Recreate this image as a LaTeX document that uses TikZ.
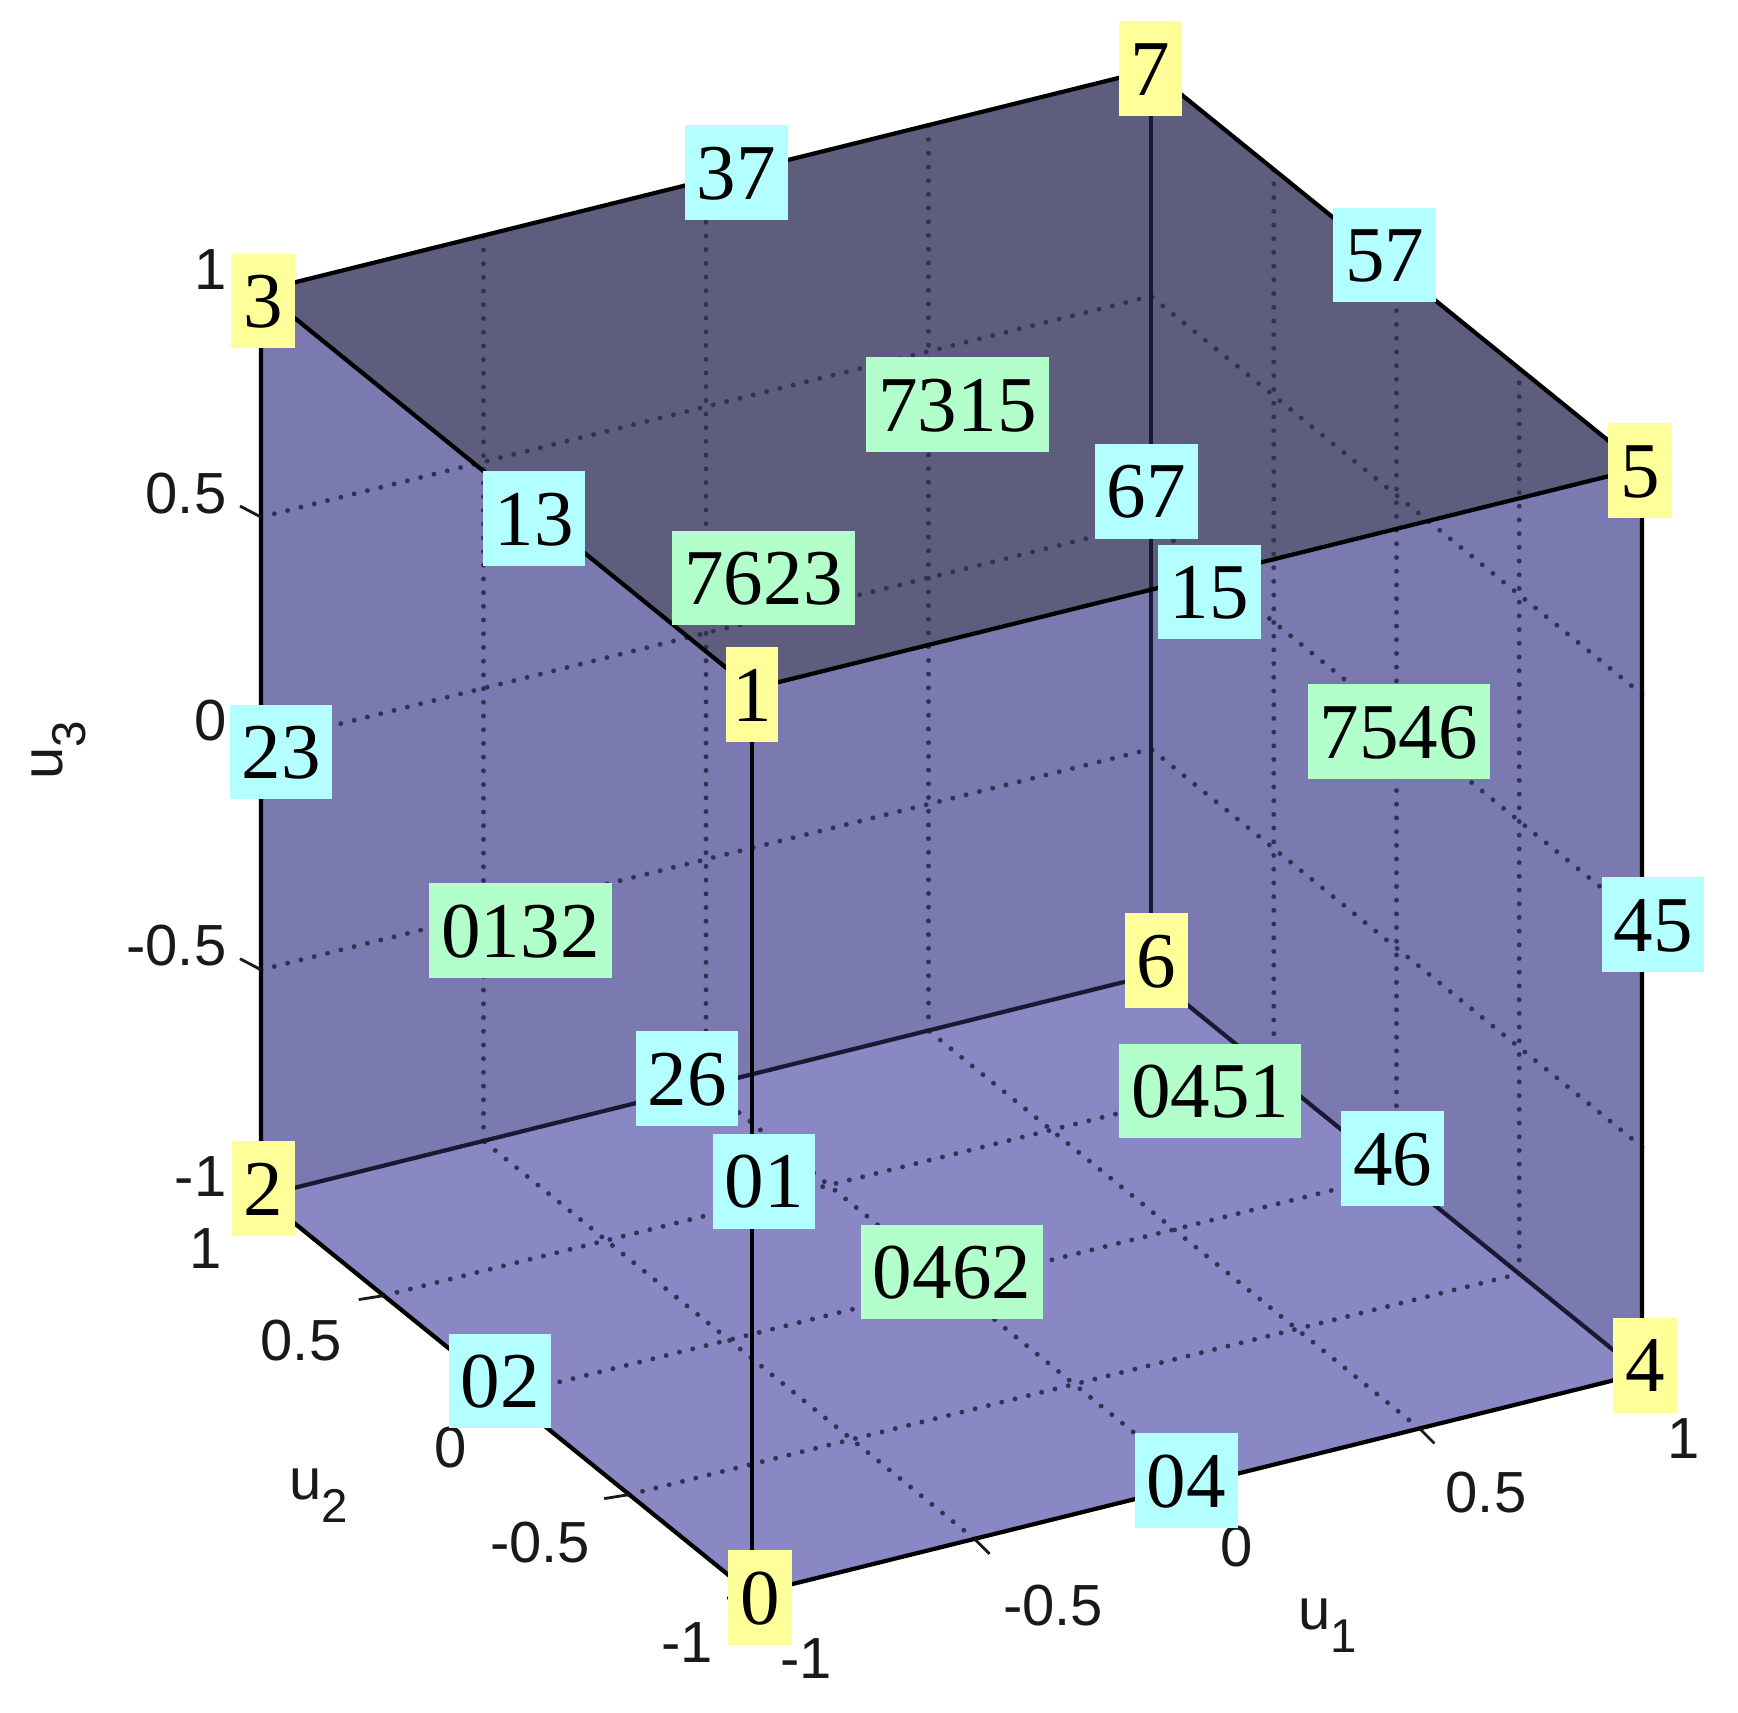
\documentclass[tikz,border=0pt]{standalone}
\usepackage{fontspec}
\setmainfont{Liberation Serif}
\newfontfamily\axfont{Liberation Sans}
\usetikzlibrary{calc}
\definecolor{topface}{RGB}{94,93,126}
\definecolor{midface}{RGB}{123,122,176}
\definecolor{lowface}{RGB}{137,135,196}
\definecolor{vyellow}{RGB}{255,255,153}
\definecolor{ecyan}{RGB}{179,255,255}
\definecolor{fgreen}{RGB}{179,255,204}
\definecolor{griddot}{RGB}{50,50,80}
\definecolor{backcol}{RGB}{25,25,50}
\definecolor{ticktext}{RGB}{25,25,25}
\newcommand\axsub[2]{#1\raisebox{-6.5pt}{\fontsize{13.5}{14}\selectfont #2}}
\begin{document}
\begin{tikzpicture}[x=0.1mm,y=-0.1mm,
  lab/.style={inner xsep=3.4pt, inner ysep=5.9pt, text height=15.2pt, text depth=0pt,
    font=\fontsize{22.5}{27}\selectfont},
  vlab/.style={lab, fill=vyellow},
  elab/.style={lab, fill=ecyan},
  flab/.style={lab, fill=fgreen},
  ticklab/.style={inner sep=0pt, text=ticktext, font=\axfont\fontsize{16.5}{18}\selectfont},
  axlab/.style={inner sep=0pt, text=ticktext, font=\axfont\fontsize{16.5}{18}\selectfont},
  gridline/.style={line width=1.4pt, dash pattern=on 0pt off 3.9pt, line cap=round, draw=griddot},
  frontedge/.style={line width=1.2pt, draw=black, line join=round},
  backedge/.style={line width=1.2pt, draw=backcol},
  tickmark/.style={line width=0.8pt, draw=ticktext}]
\useasboundingbox (0,0) rectangle (1738,1712);
\fill[white] (0,0) rectangle (1738,1712);
\begin{scope}[shift={(9.515cm,-8.32cm)}, x={(4.45cm,1.104cm)}, y={(-2.455cm,1.99cm)}, z={(0cm,4.527cm)}]
  \coordinate (v0) at (-1,-1,-1);
  \coordinate (v1) at (-1,-1,1);
  \coordinate (v2) at (-1,1,-1);
  \coordinate (v3) at (-1,1,1);
  \coordinate (v4) at (1,-1,-1);
  \coordinate (v5) at (1,-1,1);
  \coordinate (v6) at (1,1,-1);
  \coordinate (v7) at (1,1,1);
  \fill[midface] (v3)--(v7)--(v5)--(v4)--(v0)--(v2)--cycle;
  \fill[topface] (v3)--(v7)--(v5)--(v1)--cycle;
  \fill[lowface] (v2)--(v6)--(v4)--(v0)--cycle;
  \foreach \t in {-0.5,0,0.5}{
    \draw[gridline] (\t,1,-1)--(\t,1,1);
    \draw[gridline] (-1,1,\t)--(1,1,\t);
    \draw[gridline] (1,\t,-1)--(1,\t,1);
    \draw[gridline] (1,-1,\t)--(1,1,\t);
    \draw[gridline] (\t,-1,-1)--(\t,1,-1);
    \draw[gridline] (-1,\t,-1)--(1,\t,-1);
  }
  \foreach \t [count=\i] in {-1,-0.5,0,0.5,1}{
    \coordinate (tz\i) at (-1,1,\t);
    \coordinate (ty\i) at (-1,\t,-1);
    \coordinate (tx\i) at (\t,-1,-1);
  }
\end{scope}
% cube edges
\draw[backedge] (v2)--(v6);
\draw[backedge] (v6)--(v4);
\draw[backedge] (v6)--(v7);
\draw[frontedge] (v3)--(v7)--(v5)--(v1)--cycle;
\draw[frontedge] (v3)--(v2)--(v0)--(v4)--(v5);
\draw[frontedge] (v1)--(v0);
% ticks
\foreach \i in {1,...,5}{
  \draw[tickmark] (tz\i) -- ++(-21,-11);
  \draw[tickmark] (ty\i) -- ++(-25,4);
  \draw[tickmark] (tx\i) -- ++(15,15);
}
% tick labels u3
\node[ticklab, anchor=east] (z1) at (227,270) {1};
\node[ticklab, anchor=east] (z2) at (227,494) {0.5};
\node[ticklab, anchor=east] (z3) at (227,721) {0};
\node[ticklab, anchor=east] (z4) at (227,946) {-0.5};
\node[ticklab, anchor=east] (z5) at (227,1177) {-1};
% tick labels u2
\node[ticklab] (y1) at (206,1249) {1};
\node[ticklab] (y2) at (301,1341) {0.5};
\node[ticklab] (y3) at (451,1448) {0};
\node[ticklab] (y4) at (540,1543) {-0.5};
\node[ticklab] (y5) at (687,1643) {-1};
% tick labels u1
\node[ticklab] (x1) at (806,1659) {-1};
\node[ticklab] (x2) at (1053,1606) {-0.5};
\node[ticklab] (x3) at (1237,1547) {0};
\node[ticklab] (x4) at (1486,1493) {0.5};
\node[ticklab] (x5) at (1684,1439) {1};
% axis labels
\node[axlab, rotate=90] (lu3) at (59,750) {\axsub{u}{3}};
\node[axlab] (lu2) at (319,1496) {\axsub{u}{2}};
\node[axlab] (lu1) at (1328,1626) {\axsub{u}{1}};
% face labels
\node[flab] (f7315) at (957.5,404.5) {7315};
\node[flab] (f7623) at (763.5,578) {7623};
\node[flab] (f7546) at (1398.7,731.4) {7546};
\node[flab] (f0132) at (520.5,930.5) {0132};
\node[flab] (f0451) at (1210.2,1091) {0451};
\node[flab] (f0462) at (952,1272) {0462};
% edge labels
\node[elab] (e37) at (736.5,172.5) {37};
\node[elab] (e57) at (1384.7,255) {57};
\node[elab] (e13) at (534,518.4) {13};
\node[elab] (e67) at (1146.3,491.2) {67};
\node[elab] (e15) at (1209.2,592) {15};
\node[elab] (e23) at (281,752) {23};
\node[elab] (e26) at (687,1078.8) {26};
\node[elab] (e01) at (764,1181.2) {01};
\node[elab] (e02) at (500,1381) {02};
\node[elab] (e04) at (1186.2,1480.8) {04};
\node[elab] (e46) at (1392.7,1158.6) {46};
\node[elab] (e45) at (1653,924.6) {45};
% vertex labels
\node[vlab] (n3) at (263,301) {3};
\node[vlab] (n7) at (1150.3,68.7) {7};
\node[vlab] (n5) at (1640.1,470.4) {5};
\node[vlab, inner xsep=1.8pt] (n1) at (752,694.8) {1};
\node[vlab] (n2) at (263.5,1188.5) {2};
\node[vlab] (n0) at (760,1597.3) {0};
\node[vlab] (n6) at (1156.3,960.9) {6};
\node[vlab] (n4) at (1645.1,1365.2) {4};
\end{tikzpicture}
\end{document}
